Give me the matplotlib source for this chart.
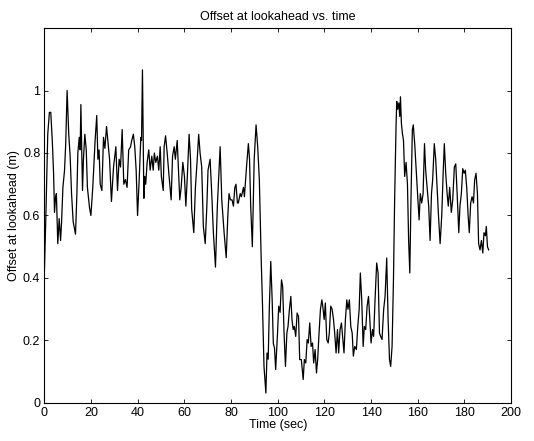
import matplotlib
matplotlib.use("Agg")
import matplotlib.pyplot as plt

time_s = [0.0, 0.6, 1.4, 2.1, 2.7, 3.4, 3.9, 4.3, 4.7, 5.1, 5.7, 6.3, 6.9, 7.3, 7.9, 8.6, 9.1, 9.7,
          10.4, 11.0, 11.6, 12.3, 13.3, 13.9, 14.3, 14.9, 15.3, 15.6, 16.3, 16.7, 17.3, 17.9, 18.4,
          19.3, 19.9, 20.7, 21.7, 22.4, 22.9, 23.4, 23.9, 24.6, 25.3, 25.9, 26.6, 27.3, 27.9, 28.7,
          29.6, 30.6, 31.3, 32.0, 32.6, 33.3, 34.0, 34.7, 35.4, 36.1, 36.9, 37.4, 38.1, 38.7, 39.3,
          39.9, 40.6, 41.3, 41.6, 42.0, 42.6, 43.0, 43.4, 44.0, 44.7, 45.3, 46.0, 46.6, 47.1, 47.7,
          48.4, 49.0, 49.6, 50.1, 50.9, 51.3, 51.9, 52.6, 53.3, 54.3, 54.9, 55.6, 56.1, 56.9, 57.4,
          58.0, 58.6, 59.3, 60.0, 60.6, 61.3, 62.0, 62.6, 63.1, 64.0, 64.7, 65.4, 66.1, 66.7, 67.4,
          68.1, 68.9, 69.6, 70.1, 71.0, 71.7, 72.4, 73.3, 74.1, 75.3, 76.0, 77.0, 77.9, 78.6, 79.1,
          79.7, 80.4, 81.0, 81.6, 82.1, 82.7, 83.1, 83.9, 84.4, 85.3, 85.7, 86.6, 87.4, 87.9, 88.4,
          89.1, 89.9, 90.7, 91.4, 92.1, 92.9, 93.4, 94.1, 94.9, 95.4, 95.9, 96.4, 97.0, 97.6, 98.1,
          98.6, 99.1, 99.9, 100.4, 101.0, 101.6, 102.1, 102.7, 103.3, 103.9, 104.4, 105.0, 105.6,
          106.1, 106.6, 107.1, 107.7, 108.3, 108.9, 109.4, 110.1, 110.9, 111.4, 112.0, 112.6, 113.1,
          113.7, 114.3, 114.9, 115.4, 116.0, 116.6, 117.1, 117.7, 118.3, 118.9, 119.3, 119.9, 120.4,
          121.0, 121.6, 122.1, 122.7, 123.3, 123.9, 124.4, 125.0, 125.6, 126.1, 126.7, 127.3, 127.9,
          128.4, 129.0, 129.6, 130.1, 130.7, 131.3, 131.9, 132.4, 133.0, 133.7, 134.3, 134.9, 135.4,
          136.0, 136.6, 137.1, 137.7, 138.3, 138.9, 139.4, 140.0, 140.6, 141.1, 141.7, 142.4, 143.0,
          143.6, 144.1, 144.7, 145.4, 146.0, 146.7, 147.3, 147.9, 148.4, 149.0, 149.6, 150.1, 150.7,
          151.0, 151.4, 151.9, 152.3, 152.6, 153.0, 153.4, 153.9, 154.4, 155.0, 155.6, 156.1, 156.6,
          157.1, 157.7, 158.1, 158.7, 159.4, 160.0, 160.6, 161.1, 161.7, 162.3, 162.9, 163.4, 164.0,
          164.7, 165.3, 165.9, 166.4, 167.1, 167.7, 168.3, 168.9, 169.6, 170.3, 170.9, 171.4, 172.0,
          172.6, 173.1, 173.7, 174.4, 175.0, 175.7, 176.3, 176.9, 177.6, 178.1, 178.7, 179.3, 179.9,
          180.4, 181.0, 181.6, 182.1, 182.7, 183.3, 183.9, 184.4, 185.0, 185.6, 186.1, 186.7, 187.3,
          187.9, 188.4, 189.0, 189.4, 189.9, 190.4, 190.9]

offset_m = [0.43, 0.60, 0.86, 0.93, 0.93, 0.83, 0.735, 0.61, 0.655, 0.67, 0.51, 0.59, 0.52, 0.575,
            0.69, 0.745, 0.83, 1.00, 0.86, 0.79, 0.67, 0.58, 0.54, 0.67, 0.80, 0.85, 0.81, 0.955,
            0.68, 0.78, 0.86, 0.81, 0.69, 0.625, 0.60, 0.69, 0.84, 0.92, 0.78, 0.81, 0.70, 0.68,
            0.85, 0.815, 0.885, 0.83, 0.78, 0.645, 0.755, 0.82, 0.68, 0.78, 0.755, 0.875, 0.70,
            0.715, 0.69, 0.81, 0.82, 0.84, 0.86, 0.82, 0.745, 0.60, 0.715, 0.85, 0.84, 1.066, 0.655,
            0.725, 0.70, 0.77, 0.81, 0.745, 0.79, 0.745, 0.80, 0.77, 0.79, 0.745, 0.82, 0.725, 0.68,
            0.82, 0.855, 0.80, 0.735, 0.65, 0.79, 0.82, 0.78, 0.84, 0.755, 0.65, 0.69, 0.77, 0.725,
            0.63, 0.735, 0.86, 0.78, 0.62, 0.545, 0.69, 0.77, 0.86, 0.80, 0.755, 0.565, 0.51, 0.63,
            0.745, 0.78, 0.67, 0.545, 0.435, 0.63, 0.82, 0.65, 0.545, 0.465, 0.60, 0.67, 0.65, 0.65,
            0.63, 0.69, 0.70, 0.64, 0.64, 0.67, 0.66, 0.69, 0.66, 0.755, 0.83, 0.78, 0.63, 0.50,
            0.78, 0.89, 0.82, 0.715, 0.46, 0.33, 0.117, 0.032, 0.16, 0.14, 0.31, 0.453, 0.33, 0.19,
            0.176, 0.107, 0.224, 0.31, 0.29, 0.394, 0.373, 0.224, 0.117, 0.224, 0.245, 0.30, 0.341,
            0.267, 0.235, 0.245, 0.213, 0.288, 0.277, 0.139, 0.139, 0.075, 0.139, 0.128, 0.203,
            0.192, 0.256, 0.181, 0.192, 0.128, 0.171, 0.096, 0.139, 0.224, 0.30, 0.33, 0.31, 0.267,
            0.32, 0.203, 0.192, 0.224, 0.31, 0.30, 0.267, 0.224, 0.16, 0.235, 0.16, 0.235, 0.256,
            0.203, 0.16, 0.267, 0.33, 0.30, 0.33, 0.245, 0.224, 0.15, 0.181, 0.171, 0.245, 0.30,
            0.416, 0.33, 0.181, 0.245, 0.235, 0.31, 0.341, 0.277, 0.192, 0.235, 0.213, 0.33, 0.448,
            0.416, 0.224, 0.213, 0.203, 0.30, 0.341, 0.464, 0.267, 0.139, 0.117, 0.181, 0.394, 0.65,
            0.885, 0.965, 0.94, 0.96, 0.917, 0.98, 0.895, 0.864, 0.84, 0.725, 0.77, 0.70, 0.52,
            0.416, 0.65, 0.874, 0.89, 0.83, 0.735, 0.66, 0.586, 0.67, 0.64, 0.67, 0.83, 0.745, 0.69,
            0.63, 0.52, 0.67, 0.714, 0.83, 0.78, 0.69, 0.60, 0.51, 0.60, 0.735, 0.83, 0.735, 0.67,
            0.63, 0.69, 0.61, 0.65, 0.755, 0.765, 0.67, 0.545, 0.63, 0.67, 0.75, 0.735, 0.745, 0.69,
            0.60, 0.545, 0.64, 0.66, 0.64, 0.714, 0.735, 0.67, 0.51, 0.49, 0.52, 0.48, 0.545, 0.535,
            0.565, 0.50, 0.49]

x_ticks = [0, 20, 40, 60, 80, 100, 120, 140, 160, 180, 200]
y_ticks = [0, 0.2, 0.4, 0.6, 0.8, 1.0]
y_tick_labels = ["0", "0.2", "0.4", "0.6", "0.8", "1"]

plt.rcParams['font.family'] = ['Liberation Sans', 'DejaVu Sans']
fig = plt.figure(figsize=(5.34, 4.41), dpi=100)
ax = fig.add_axes([0.0833, 0.0862, 0.8737, 0.8503])
n = min(len(time_s), len(offset_m))
ax.plot(time_s[:n], offset_m[:n], color='black', linewidth=0.9)
ax.set_xlim(0, 200)
ax.set_ylim(0, 1.2)
ax.set_xticks(x_ticks)
ax.set_yticks(y_ticks)
ax.set_yticklabels(y_tick_labels)
ax.tick_params(direction='in', top=True, right=True, labelsize=9, length=3, width=0.6, pad=3)
for s in ax.spines.values():
    s.set_linewidth(0.8)
ax.set_title("Offset at lookahead vs. time", fontsize=9, pad=6)
ax.set_xlabel("Time (sec)", fontsize=9, labelpad=0)
ax.set_ylabel("Offset at lookahead (m)", fontsize=9, labelpad=2)
fig.savefig("out.png", dpi=100)
